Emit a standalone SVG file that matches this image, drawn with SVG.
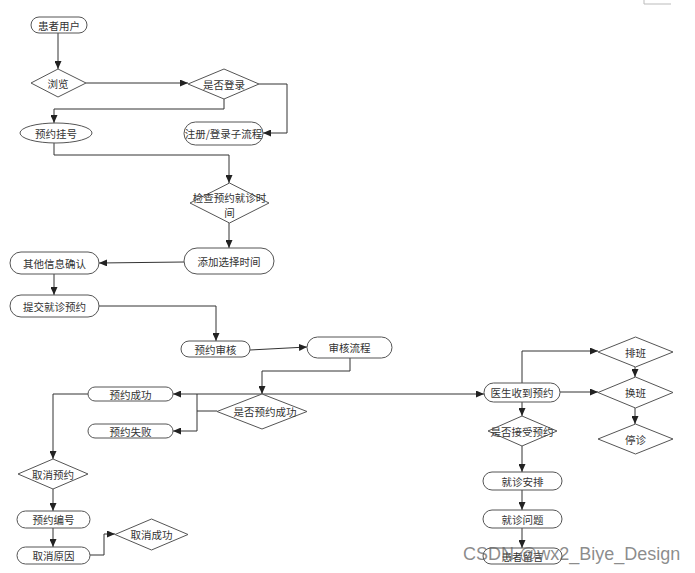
<svg xmlns="http://www.w3.org/2000/svg" width="695" height="573" viewBox="0 0 695 573">
<defs>
<marker id="arr" markerUnits="userSpaceOnUse" markerWidth="8" markerHeight="7" refX="8" refY="3.5" orient="auto">
<path d="M0,0 L8,3.5 L0,7 z" fill="#222"/>
</marker>
<style>
.n{fill:#fff;stroke:#555;stroke-width:1}
.t{font-family:"Noto Sans CJK SC","Noto Sans",sans-serif;font-size:10.5px;fill:#333;text-anchor:middle;dominant-baseline:central}
.c path{fill:none;stroke:#333;stroke-width:1;marker-end:url(#arr)}
.wm{font-family:"Liberation Sans",Arial,sans-serif;font-size:18px;fill:#666;fill-opacity:0.75}
</style>
</defs>
<rect width="695" height="573" fill="#fff"/>
<path d="M644,0 V4 H671" fill="none" stroke="#bbb" stroke-width="1"/>

<g class="c">
<path d="M58,33 V69"/>
<path d="M86,83 H188"/>
<path d="M224,99 V109 H54 V123"/>
<path d="M259,84 H287 V133 H263"/>
<path d="M54,143 V155 H229 V183"/>
<path d="M229,223 V248"/>
<path d="M184,262 L99,263"/>
<path d="M54,274 V295"/>
<path d="M99,306 H216 V341"/>
<path d="M250,350 L307,347"/>
<path d="M350,358 V371 H262 V394"/>
<path d="M262,394 H173"/>
<path d="M262,394 H484"/>
<path d="M217,411 H197 V431 H173"/>
<path d="M197,411 V394" style="marker-end:none"/>
<path d="M88,394 H53 V459"/>
<path d="M53,489 V511"/>
<path d="M53,528 V547"/>
<path d="M90,555 H104 V534 H115"/>
<path d="M522,383 V351 H598"/>
<path d="M560,392 H598"/>
<path d="M635,367 V377"/>
<path d="M635,408 V424"/>
<path d="M522,402 V416"/>
<path d="M522,446 V472"/>
<path d="M522,490 V510"/>
<path d="M522,528 V548"/>
</g>

<g id="n1"><rect class="n" x="31" y="17" width="56" height="16" rx="8"/><text class="t" x="59" y="25">患者用户</text></g>
<g id="n2"><polygon class="n" points="58,69 86,83 58,97 31,83"/><text class="t" x="58" y="83">浏览</text></g>
<g id="n3"><polygon class="n" points="224,69 259,84 224,99 188,84"/><text class="t" x="224" y="84">是否登录</text></g>
<g id="n4"><ellipse class="n" cx="56" cy="133" rx="36" ry="10"/><text class="t" x="56" y="133">预约挂号</text></g>
<g id="n5"><rect class="n" x="184" y="122" width="79" height="23" rx="11.5"/><text class="t" x="223.5" y="133.5">注册/登录子流程</text></g>
<g id="n6"><polygon class="n" points="229.5,183 269,203 229.5,223 190,203"/><text class="t" x="229.5" y="197">检查预约就诊时</text><text class="t" x="229.5" y="212">间</text></g>
<g id="n7"><rect class="n" x="184" y="248" width="90" height="26" rx="13"/><text class="t" x="229" y="261">添加选择时间</text></g>
<g id="n8"><rect class="n" x="10" y="252" width="89" height="22" rx="11"/><text class="t" x="54.5" y="263">其他信息确认</text></g>
<g id="n9"><rect class="n" x="10" y="295" width="89" height="22" rx="11"/><text class="t" x="54.5" y="306">提交就诊预约</text></g>
<g id="n10"><rect class="n" x="181" y="341" width="69" height="16" rx="8"/><text class="t" x="215.5" y="349">预约审核</text></g>
<g id="n11"><rect class="n" x="307" y="337" width="85" height="21" rx="10.5"/><text class="t" x="349.5" y="347.5">审核流程</text></g>
<g id="n12"><polygon class="n" points="262,394 307,411.5 262,429 217,411.5"/><text class="t" x="265" y="411.5">是否预约成功</text></g>
<g id="n13"><rect class="n" x="88" y="387" width="85" height="14" rx="7"/><text class="t" x="130.5" y="394">预约成功</text></g>
<g id="n14"><rect class="n" x="88" y="424" width="85" height="14" rx="7"/><text class="t" x="130.5" y="431">预约失败</text></g>
<g id="n15"><polygon class="n" points="53,459 88,474 53,489 18,474"/><text class="t" x="53" y="474">取消预约</text></g>
<g id="n16"><rect class="n" x="17" y="511" width="73" height="17" rx="8.5"/><text class="t" x="53.5" y="519.5">预约编号</text></g>
<g id="n17"><rect class="n" x="17" y="547" width="73" height="17" rx="8.5"/><text class="t" x="53.5" y="555.5">取消原因</text></g>
<g id="n18"><polygon class="n" points="151.5,519 188,534.5 151.5,550 115,534.5"/><text class="t" x="151.5" y="534.5">取消成功</text></g>
<g id="n19"><rect class="n" x="484" y="383" width="76" height="19" rx="9.5"/><text class="t" x="522" y="392.5">医生收到预约</text></g>
<g id="n20"><polygon class="n" points="635.5,337 673,352 635.5,367 598,352"/><text class="t" x="635.5" y="352">排班</text></g>
<g id="n21"><polygon class="n" points="635.5,377 673,392.5 635.5,408 598,392.5"/><text class="t" x="635.5" y="392.5">换班</text></g>
<g id="n22"><polygon class="n" points="635.5,424 673,439 635.5,454 598,439"/><text class="t" x="635.5" y="439">停诊</text></g>
<g id="n23"><polygon class="n" points="522,416 557,431 522,446 488,431"/><text class="t" x="522" y="431">是否接受预约</text></g>
<g id="n24"><rect class="n" x="483" y="472" width="79" height="18" rx="9"/><text class="t" x="522.5" y="481">就诊安排</text></g>
<g id="n25"><rect class="n" x="483" y="510" width="79" height="18" rx="9"/><text class="t" x="522.5" y="519">就诊问题</text></g>
<g id="n26"><rect class="n" x="483" y="548" width="79" height="16" rx="8"/><text class="t" x="522.5" y="556">患者留言</text></g>

<text class="wm" x="463" y="560">CSDN @wx2_Biye_Design</text>
</svg>
